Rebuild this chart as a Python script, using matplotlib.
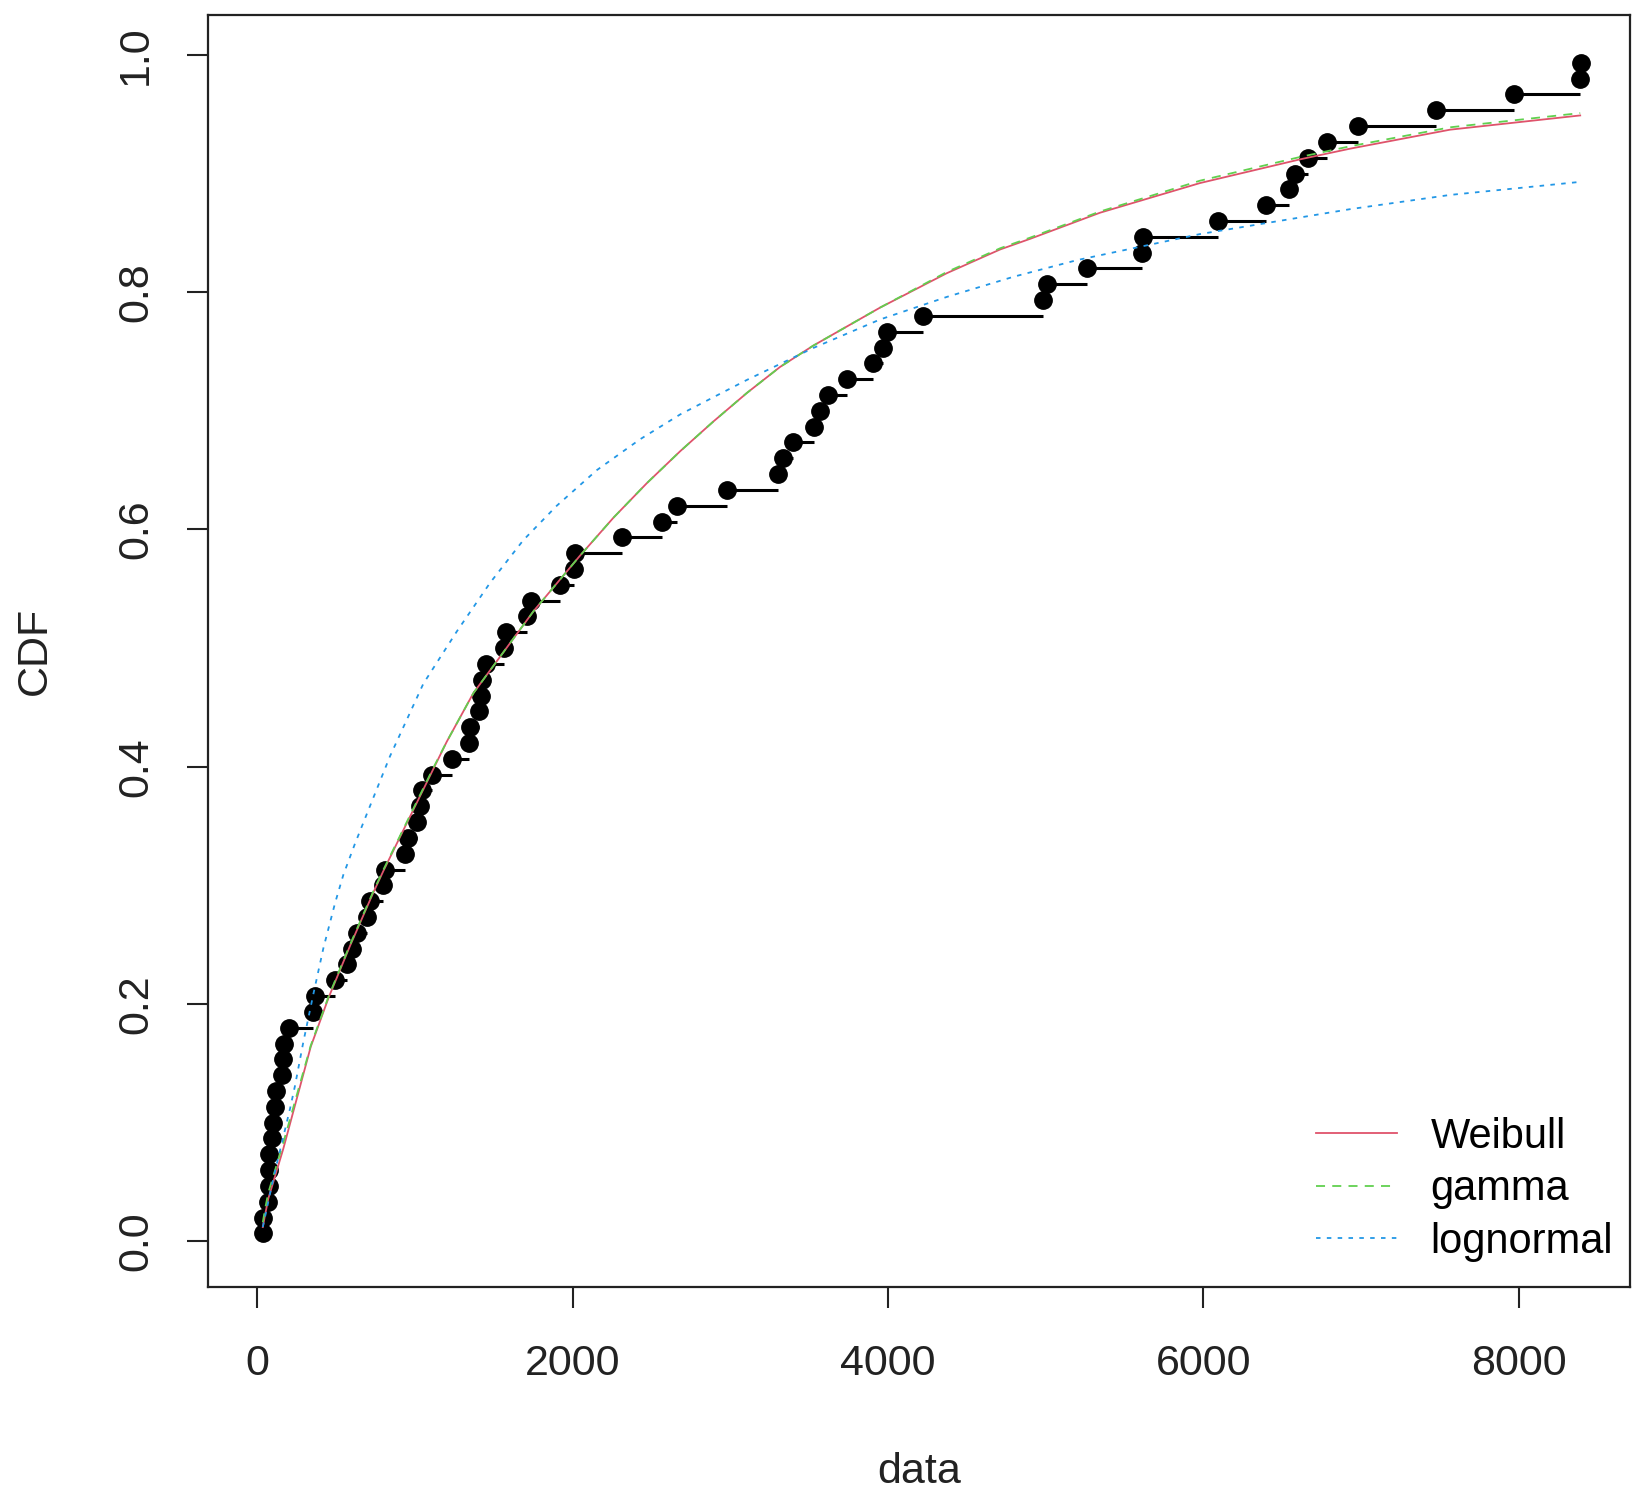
import numpy as np
import matplotlib
matplotlib.use("Agg")
import matplotlib.pyplot as plt

plt.rcParams['font.family'] = ['Liberation Sans', 'DejaVu Sans']

data = [36, 40, 72, 74, 76, 78, 96, 103, 114, 120,
        160, 166, 170, 204, 356, 367, 494, 568, 600, 632,
        695, 716, 800, 811, 938, 959, 1012, 1033, 1044, 1107,
        1234, 1345, 1352, 1407, 1420, 1424, 1452, 1566, 1579, 1710,
        1737, 1921, 2012, 2018, 2316, 2566, 2661, 2978, 3304, 3335,
        3401, 3532, 3570, 3623, 3739, 3908, 3971, 3993, 4225, 4986,
        5008, 5265, 5612, 5618, 6090, 6397, 6546, 6582, 6667, 6783,
        6984, 7475, 7967, 8388, 8392]

# fitted CDF curves
weib_x = [36, 50, 71, 166, 251, 340, 455, 589, 737, 800, 1117, 1202, 1371,
          1625, 1752, 2048, 2260, 2471, 2683, 2893, 3105, 3316, 3527, 3950,
          4373, 4711, 4902, 5345, 5979, 6614, 6931, 7565, 8390]
weib_y = [0.012, 0.022, 0.036, 0.078, 0.120, 0.164, 0.206, 0.249, 0.294, 0.312,
          0.398, 0.421, 0.462, 0.508, 0.531, 0.578, 0.610, 0.639, 0.666, 0.691,
          0.715, 0.737, 0.755, 0.787, 0.816, 0.836, 0.845, 0.867, 0.892, 0.912,
          0.921, 0.937, 0.949]
gam_x = weib_x
gam_y = [0.016, 0.027, 0.041, 0.083, 0.123, 0.165, 0.207, 0.250, 0.295, 0.313,
         0.399, 0.421, 0.462, 0.508, 0.531, 0.578, 0.610, 0.639, 0.666, 0.691,
         0.715, 0.737, 0.755, 0.787, 0.817, 0.837, 0.846, 0.868, 0.894, 0.914,
         0.923, 0.939, 0.951]
lnorm_x = [36, 93, 124, 166, 209, 240, 293, 356, 420, 494, 547, 620, 695, 843,
           1054, 1266, 1477, 1688, 1900, 2154, 2428, 2683, 3105, 3527, 3950,
           4373, 4796, 5198, 5979, 6614, 6931, 7565, 8390]
lnorm_y = [0.012, 0.047, 0.065, 0.088, 0.112, 0.131, 0.168, 0.208, 0.247, 0.285,
           0.309, 0.335, 0.360, 0.409, 0.470, 0.514, 0.555, 0.591, 0.620, 0.650,
           0.676, 0.697, 0.726, 0.753, 0.777, 0.796, 0.813, 0.827, 0.849, 0.863,
           0.870, 0.882, 0.893]

labels = ['Weibull', 'gamma', 'lognormal']
colors = ['#DF536B', '#61D04F', '#2297E6']

n = len(data)
xs = np.array(data, dtype=float)
ps = (np.arange(1, n + 1) - 0.5) / n

fig = plt.figure(figsize=(16.32, 14.90), dpi=100)
ax = fig.add_axes([0.1276, 0.1362, 0.8712, 0.854])

# empirical cdf: horizontal steps and points
ax.hlines(ps[:-1], xs[:-1], xs[1:], color='black', lw=2.2, zorder=2)
ax.plot(xs, ps, 'o', color='black', ms=12.5, zorder=3)

l1, = ax.plot(weib_x, weib_y, color=colors[0], lw=1.3, zorder=4)
l2, = ax.plot(gam_x, gam_y, color=colors[1], lw=1.3, dashes=(5, 4), zorder=4)
l3, = ax.plot(lnorm_x, lnorm_y, color=colors[2], lw=1.3, dashes=(2.5, 3.5), zorder=4)

ax.set_xlim(-310, 8706)
ax.set_ylim(-0.0386, 1.034)
ax.set_xticks([0, 2000, 4000, 6000, 8000])
ax.set_yticks([0.0, 0.2, 0.4, 0.6, 0.8, 1.0])
ax.set_yticklabels(['0.0', '0.2', '0.4', '0.6', '0.8', '1.0'], rotation=90, va='center')
ax.tick_params(axis='both', length=15, width=1.5, labelsize=31, colors='#222222')
ax.tick_params(axis='x', pad=26)
ax.tick_params(axis='y', pad=22.5)
for s in ax.spines.values():
    s.set_linewidth(1.6)
    s.set_color('#222222')

ax.set_xlabel('data', fontsize=31, labelpad=49, color='#222222')
ax.set_ylabel('CDF', fontsize=31, labelpad=44, color='#222222')

ax.legend([l1, l2, l3], labels, loc='lower right', frameon=False, fontsize=30,
          bbox_to_anchor=(0.988, 0.02), borderpad=0, borderaxespad=0,
          handlelength=1.95, handletextpad=0.8, labelspacing=0.3)

fig.savefig('out.png', dpi=100)
